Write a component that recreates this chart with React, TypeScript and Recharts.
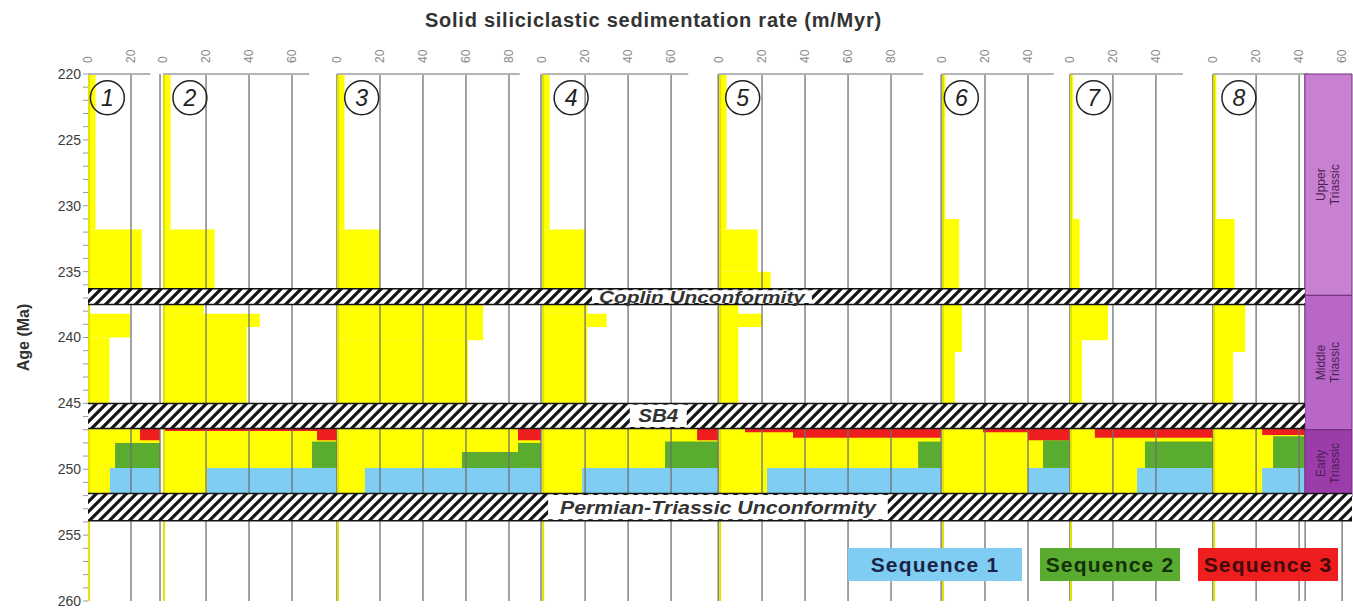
import React from 'react';
import { ComposedChart, XAxis, YAxis, ReferenceArea, ReferenceLine, ReferenceDot } from 'recharts';

// ---- data ----
const panelIds = ['1', '2', '3', '4', '5', '6', '7', '8'];

// top-axis tick labels per panel (m/Myr)
const rateTicks = [
  [0, 20],
  [0, 20, 40, 60],
  [0, 20, 40, 60, 80],
  [0, 20, 40, 60],
  [0, 20, 40, 60, 80],
  [0, 20, 40],
  [0, 20, 40],
  [0, 20, 40, 60],
];

const ageTicks = [220, 225, 230, 235, 240, 245, 250, 255, 260];

// total solid siliciclastic rate: [top age, base age, rate]
const total1 = [[220, 231.8, 3.5], [231.8, 236.3, 25], [238.2, 240, 19.5], [240, 245, 10], [246.9, 251.8, 33.5]];
const total2 = [[220, 231.8, 3.5], [231.8, 236.3, 24], [237.5, 238.2, 19], [238.2, 239.2, 45], [239.2, 245, 39], [246.9, 251.8, 80.9]];
const total3 = [[220, 231.8, 3.5], [231.8, 236.3, 20], [237.5, 240.2, 68], [240.2, 245, 61], [246.9, 251.8, 94.9]];
const total4 = [[220, 231.8, 3.5], [231.8, 236.3, 20], [237.5, 238.2, 21], [238.2, 239.2, 30], [239.2, 245, 21], [246.9, 251.8, 81.9]];
const total5 = [[220, 231.8, 3.5], [231.8, 235, 18], [235, 236.3, 24], [237.5, 238.2, 9], [238.2, 239.2, 20], [239.2, 245, 9], [246.9, 251.8, 103.3]];
const total6 = [[220, 231, 1.5], [231, 236.3, 8], [237.5, 241.1, 9.3], [241.1, 245, 6], [246.9, 251.8, 59.5]];
const total7 = [[220, 231, 1.5], [231, 236.3, 4.5], [237.5, 240.2, 17.7], [240.2, 245, 5.6], [246.9, 251.8, 66.5]];
const total8 = [[220, 231, 1.5], [231, 236.3, 10], [237.5, 241.1, 15], [241.1, 245, 9.3], [246.9, 251.8, 42.8]];
const totals = [total1, total2, total3, total4, total5, total6, total7, total8];

// sequences: [from rate, to rate, top age, base age]
const seq1 = [
  [[10.2, 33.5, 249.9, 251.8]],
  [[20.5, 80.9, 249.9, 251.8]],
  [[13, 94.9, 249.9, 251.8]],
  [[18.6, 81.9, 249.9, 251.8]],
  [[22.3, 103.3, 249.9, 251.8]],
  [[40, 59.5, 249.9, 251.8]],
  [[31.2, 66.5, 249.9, 251.8]],
  [[22.8, 42.8, 249.9, 251.8]],
];
const seq2 = [
  [[12.6, 33.5, 248.0, 249.9]],
  [[69.3, 80.9, 247.9, 249.9]],
  [[58.1, 84.2, 248.7, 249.9], [84.2, 94.9, 248.0, 249.9]],
  [[57.2, 81.9, 247.9, 249.9]],
  [[92.6, 103.3, 247.9, 249.9]],
  [[47, 59.5, 247.8, 249.9]],
  [[34.9, 66.5, 247.9, 249.9]],
  [[27.9, 42.8, 247.5, 249.9]],
];
const seq3 = [
  [[24.2, 33.5, 246.9, 247.8]],
  [[0, 71.6, 246.9, 247.1], [71.6, 80.9, 246.9, 247.8]],
  [[84.2, 94.9, 246.9, 247.8]],
  [[72.1, 81.9, 246.9, 247.8]],
  [[12.1, 34.4, 246.9, 247.2], [34.4, 103.3, 246.9, 247.6]],
  [[19.1, 40, 246.9, 247.2], [40, 59.5, 246.9, 247.8]],
  [[11.6, 66.5, 246.9, 247.6]],
  [[22.8, 42.8, 246.9, 247.4]],
];

const seqNames = ['Sequence 1', 'Sequence 2', 'Sequence 3'];
const seqColors = ['#80cdf4', '#5aac30', '#ee1e1e'];
const seqText = ['#1b2446', '#13300a', '#420a0a'];

const bandNames = ['Coplin Unconformity', 'SB4', 'Permian-Triassic Unconformity'];
const bandAges = [[236.3, 237.5], [245, 246.9], [251.85, 253.9]];

const periodNames = [['Upper', 'Triassic'], ['Middle', 'Triassic'], ['Early', 'Triassic']];
const periodAges = [[220, 236.8], [236.8, 247.0], [247.0, 252.1]];
const periodColors = ['#c880d0', '#b867c6', '#9c3caa'];

// ---- layout (axis units: 1 unit = 1 m/Myr, ~2.15 px) ----
const W = 1353;
const H = 613;
const X_MAX = 587.9;
const COL_END = 566;
const panelStart = [0, 34.9, 115.8, 211.2, 293.5, 397.2, 456.7, 523.3];
const panelWidth = [33.5, 80.9, 94.9, 81.9, 103.3, 59.5, 66.5, 42.8];
const topLineLen = [29, 68, 85, 68, 95, 52, 52.5, 44];
const circleAt = [9, 12.5, 11.5, 13.5, 11, 9, 11, 12];
const bandRight = [COL_END, COL_END, X_MAX];
const bandBox = [[234.4, 336.7], [252, 278.5], [214, 372]];
const bandTextLen = [206, 40, 316];
const bandFont = [17, 18, 18];
const extent = [{ u: 0, age: 220 }, { u: X_MAX, age: 260 }];

const YELLOW = '#ffff00';
const GRID = '#707070';

const topTicks: number[] = [];
const topLabel = new Map<string, string>();
rateTicks.forEach((ts, i) =>
  ts.forEach((t) => {
    const g = panelStart[i] + t;
    topTicks.push(g);
    topLabel.set(g.toFixed(2), String(t));
  })
);
const ageMinor = Array.from({ length: 41 }, (_, i) => 220 + i);

const TopTick = (props: any) => {
  const { x, payload } = props;
  const ty = 63;
  return (
    <text x={x} y={ty} transform={`rotate(-90, ${x}, ${ty})`} textAnchor="start" dy="0.35em" fontSize={12} fill="#8a8a8a">
      {topLabel.get(Number(payload.value).toFixed(2))}
    </text>
  );
};

const AgeTick = (props: any) => {
  const { y, payload } = props;
  const major = ageTicks.includes(payload.value);
  return (
    <g>
      <line x1={83} x2={88} y1={y} y2={y} stroke="#9a9a9a" strokeWidth={1} />
      {major && (
        <text x={81} y={y} dy="0.35em" textAnchor="end" fontSize={14} fill="#3c3c3c">
          {payload.value}
        </text>
      )}
    </g>
  );
};

const BandLabel = (props: any) => {
  const { viewBox, text, len, size } = props;
  const { x, y, width, height } = viewBox;
  return (
    <text x={x + width / 2} y={y + height / 2} dy="0.36em" textAnchor="middle" fontSize={size} fontWeight="bold"
      fontStyle="italic" fill="#333" textLength={len} lengthAdjust="spacingAndGlyphs">
      {text}
    </text>
  );
};

const PeriodLabel = (props: any) => {
  const { viewBox, lines } = props;
  const cx = viewBox.x + viewBox.width / 2;
  const cy = viewBox.y + viewBox.height / 2;
  return (
    <text transform={`rotate(-90, ${cx}, ${cy})`} x={cx} y={cy} textAnchor="middle" fontSize={12} fill="#4a1f55">
      <tspan x={cx} dy="-0.25em">{lines[0]}</tspan>
      <tspan x={cx} dy="1.15em">{lines[1]}</tspan>
    </text>
  );
};

// one chart frame; several are stacked so the drawing order is fixed by the DOM
const Frame = ({ axes, children }: { axes?: boolean; children: React.ReactNode }) => (
  <div style={{ position: 'absolute', left: 0, top: 0 }}>
    <ComposedChart width={W} height={H} data={extent}
      margin={axes ? { top: 0, right: 1, bottom: 12, left: 0 } : { top: 74, right: 1, bottom: 12, left: 88 }}>
      <defs>
        <pattern id="hatch" patternUnits="userSpaceOnUse" width="10" height="10">
          <rect width="10" height="10" fill="#fff" />
          <path d="M-2.5,2.5 l5,-5 M0,10 l10,-10 M7.5,12.5 l5,-5" stroke="#141414" strokeWidth="3.2" />
        </pattern>
      </defs>
      <XAxis dataKey="u" type="number" orientation="top" domain={[0, X_MAX]} allowDataOverflow ticks={topTicks} interval={0}
        height={74} axisLine={false} tickLine={false} tick={<TopTick />} hide={!axes} />
      <YAxis dataKey="age" type="number" domain={[220, 260]} allowDataOverflow reversed ticks={ageMinor} interval={0} width={88}
        axisLine={false} tickLine={false} tick={<AgeTick />} hide={!axes}
        label={{ value: 'Age (Ma)', angle: -90, position: 'center', dx: -21, fontSize: 16, fontWeight: 'bold', fill: '#333' }} />
      {children}
    </ComposedChart>
  </div>
);

export default function App() {
  const fills: React.ReactNode[] = [];
  totals.forEach((steps, i) =>
    steps.forEach(([a, b, r], k) =>
      fills.push(
        <ReferenceArea key={`y${i}-${k}`} x1={panelStart[i]} x2={panelStart[i] + r} y1={a} y2={b}
          fill={YELLOW} fillOpacity={1} stroke="none" ifOverflow="visible" />
      )
    )
  );
  const seqs: React.ReactNode[] = [];
  [seq1, seq2, seq3].forEach((seq, s) =>
    seq.forEach((blocks, i) =>
      blocks.forEach(([r1, r2, a, b], k) =>
        seqs.push(
          <ReferenceArea key={`s${s}-${i}-${k}`} x1={panelStart[i] + r1} x2={panelStart[i] + r2} y1={a} y2={b}
            fill={seqColors[s]} fillOpacity={1} stroke="none" ifOverflow="visible" />
        )
      )
    )
  );

  const grid: React.ReactNode[] = [];
  panelIds.forEach((_, i) => {
    const xs = rateTicks[i].filter((t) => t > 0).map((t) => panelStart[i] + t);
    xs.push(panelStart[i] + panelWidth[i]);
    xs.forEach((gx, k) =>
      grid.push(
        <ReferenceLine key={`g${i}-${k}`} segment={[{ x: gx, y: gx > COL_END + 0.5 ? 253.9 : 220 }, { x: gx, y: 260 }]}
          stroke={GRID} strokeWidth={1.3} ifOverflow="visible" />
      )
    );
    grid.push(
      <ReferenceLine key={`z${i}`} segment={[{ x: panelStart[i] + 0.5, y: 220 }, { x: panelStart[i] + 0.5, y: 260 }]}
        stroke="#e2e200" strokeWidth={2} ifOverflow="visible" />
    );
    grid.push(
      <ReferenceLine key={`t${i}`} segment={[{ x: panelStart[i], y: 220 }, { x: panelStart[i] + topLineLen[i], y: 220 }]}
        stroke="#b4b4b4" strokeWidth={2} ifOverflow="visible" />
    );
  });

  const column = periodNames.map((lines, i) => (
    <ReferenceArea key={`p${i}`} x1={COL_END} x2={X_MAX} y1={periodAges[i][0]} y2={periodAges[i][1]}
      fill={periodColors[i]} fillOpacity={1} stroke="#6e2f7c" strokeWidth={1} ifOverflow="visible"
      label={<PeriodLabel lines={lines} />} />
  ));

  const hatch = bandNames.map((name, i) => (
    <ReferenceArea key={`b${i}`} x1={0} x2={bandRight[i]} y1={bandAges[i][0]} y2={bandAges[i][1]}
      fill="url(#hatch)" fillOpacity={1} stroke="none" ifOverflow="visible" />
  ));
  const borders: React.ReactNode[] = [];
  bandNames.forEach((name, i) => {
    [0, 1].forEach((e) =>
      borders.push(
        <ReferenceLine key={`be${i}-${e}`} segment={[{ x: 0, y: bandAges[i][e] }, { x: bandRight[i], y: bandAges[i][e] }]}
          stroke="#141414" strokeWidth={1.5} ifOverflow="visible" />
      )
    );
  });
  const boxes = bandNames.map((name, i) => (
    <ReferenceArea key={`bl${i}`} x1={bandBox[i][0]} x2={bandBox[i][1]} y1={bandAges[i][0] + 0.11} y2={bandAges[i][1] - 0.11}
      fill="#fff" fillOpacity={1} stroke="none" ifOverflow="visible"
      label={<BandLabel text={name} len={bandTextLen[i]} size={bandFont[i]} />} />
  ));
  const circles = panelIds.map((id, i) => (
    <ReferenceDot key={`c${i}`} x={panelStart[i] + circleAt[i]} y={221.8} r={17} fill="none" stroke="#222" strokeWidth={1.5}
      ifOverflow="visible"
      label={{ value: id, position: 'center', fontSize: 23, fontStyle: 'italic', fill: '#222' }} />
  ));

  return (
    <div style={{ position: 'relative', width: W, height: H, background: '#fff', fontFamily: '"Liberation Sans", Arial, sans-serif' }}>
      <style>{'body{margin:0}'}</style>
      <Frame>{fills}</Frame>
      <Frame>{seqs}</Frame>
      <Frame>{grid}</Frame>
      <Frame>{column}</Frame>
      <Frame>{hatch}</Frame>
      <Frame>{borders}</Frame>
      <Frame axes>
        {boxes}
        {circles}
      </Frame>

      <div style={{ position: 'absolute', left: 425, top: 9, fontSize: 20, fontWeight: 'bold', color: '#333', whiteSpace: 'nowrap', letterSpacing: 0.75 }}>
        Solid siliciclastic sedimentation rate (m/Myr)
      </div>

      {seqNames.map((name, i) => (
        <div key={name} style={{
          position: 'absolute', left: [848, 1040, 1198][i], top: 548, width: [174, 140, 140][i], height: 33,
          background: seqColors[i], color: seqText[i], fontSize: 21, fontWeight: 'bold', letterSpacing: 1.2,
          display: 'flex', alignItems: 'center', justifyContent: 'center', whiteSpace: 'nowrap',
        }}>
          {name}
        </div>
      ))}
    </div>
  );
}
